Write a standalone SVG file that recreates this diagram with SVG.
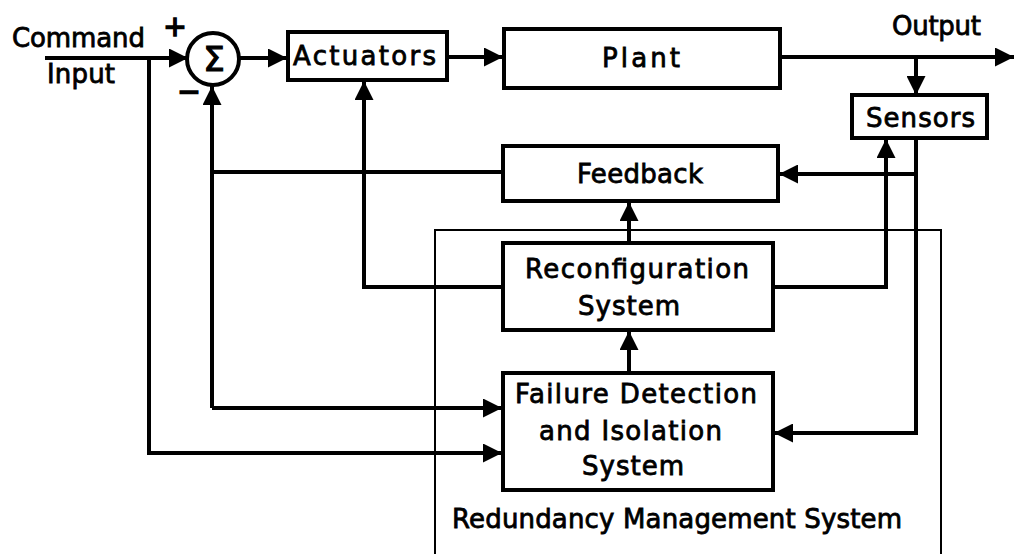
<svg xmlns="http://www.w3.org/2000/svg" width="1014" height="554" viewBox="0 0 1014 554">
<style>
.box{fill:#fff;stroke:#000;stroke-width:4}
.rms{fill:none;stroke:#000;stroke-width:2}
.ln{fill:none;stroke:#000;stroke-width:4;stroke-linejoin:miter}
.arr{marker-end:url(#ah)}
text{font-family:"DejaVu Sans","Liberation Sans",sans-serif;font-size:26px;fill:#000;stroke:#000;stroke-width:0.8}
.c{text-anchor:middle}
.sig{font-size:34px;stroke-width:1.2px}
.sgn{font-size:28px;stroke-width:1.5px}
</style>
<defs>
<marker id="ah" markerUnits="userSpaceOnUse" markerWidth="19" markerHeight="19" viewBox="0 0 19 19" refX="19" refY="9.5" orient="auto">
<path d="M0,0 L19,9.5 L0,19 Z" fill="#000"/>
</marker>
</defs>
<rect width="1014" height="554" fill="#fff"/>
<g id="rms">
<rect class="rms" x="435" y="230" width="506" height="340"/>
<text x="452" y="528" textLength="450" lengthAdjust="spacing">Redundancy Management System</text>
</g>
<g id="connectors">
<path class="ln arr" d="M45,58 H188"/>
<path class="ln arr" d="M239,58 H287"/>
<path class="ln arr" d="M447,57 H503"/>
<path class="ln arr" d="M780,57 H1014"/>
<path class="ln arr" d="M916,57 V95"/>
<path class="ln arr" d="M916,138 V433 H774"/>
<path class="ln arr" d="M916,174 H779"/>
<path class="ln arr" d="M773,287 H886 V139"/>
<path class="ln arr" d="M503,287 H364 V81"/>
<path class="ln arr" d="M629,243 V202"/>
<path class="ln arr" d="M629,373 V331"/>
<path class="ln" d="M503,172 H212"/>
<path class="ln arr" d="M212,408 V86"/>
<path class="ln arr" d="M212,408 H502"/>
<path class="ln arr" d="M149,58 V453 H502"/>
</g>
<g id="sum">
<circle cx="213" cy="59" r="26" fill="#fff" stroke="#000" stroke-width="4"/>
<text class="c sig" x="214" y="71">Σ</text>
<text class="c sgn" x="175" y="36">+</text>
<text class="c sgn" x="189" y="101">−</text>
</g>
<g id="command">
<text x="12" y="47" textLength="133" lengthAdjust="spacing">Command</text>
<text x="47" y="83" textLength="68" lengthAdjust="spacing">Input</text>
</g>
<g id="output">
<text x="892" y="35" textLength="89" lengthAdjust="spacing">Output</text>
</g>
<g id="actuators">
<rect class="box" x="288" y="32" width="159" height="48"/>
<text x="293" y="65" textLength="143" lengthAdjust="spacing">Actuators</text>
</g>
<g id="plant">
<rect class="box" x="504" y="29" width="276" height="59"/>
<text x="602" y="67" textLength="78" lengthAdjust="spacing">Plant</text>
</g>
<g id="sensors">
<rect class="box" x="852" y="95" width="135" height="43"/>
<text x="866" y="127" textLength="109" lengthAdjust="spacing">Sensors</text>
</g>
<g id="feedback">
<rect class="box" x="503" y="146" width="275" height="55"/>
<text x="577" y="183" textLength="126" lengthAdjust="spacing">Feedback</text>
</g>
<g id="reconfiguration">
<rect class="box" x="503" y="243" width="270" height="87"/>
<text x="525" y="278" textLength="224" lengthAdjust="spacing">Reconfiguration</text>
<text x="578" y="315" textLength="102" lengthAdjust="spacing">System</text>
</g>
<g id="fdi">
<rect class="box" x="503" y="373" width="270" height="117"/>
<text x="515" y="403" textLength="242" lengthAdjust="spacing">Failure Detection</text>
<text x="539" y="440" textLength="183" lengthAdjust="spacing">and Isolation</text>
<text x="582" y="475" textLength="102" lengthAdjust="spacing">System</text>
</g>
</svg>
